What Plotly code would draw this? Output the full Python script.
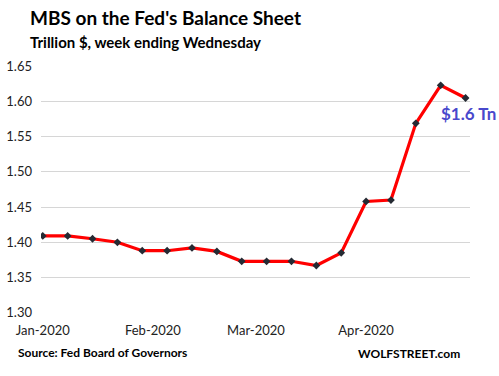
import plotly.graph_objects as go

weeks = ["2020-01-01", "2020-01-08", "2020-01-15", "2020-01-22", "2020-01-29",
         "2020-02-05", "2020-02-12", "2020-02-19", "2020-02-26",
         "2020-03-04", "2020-03-11", "2020-03-18", "2020-03-25",
         "2020-04-01", "2020-04-08", "2020-04-15", "2020-04-22", "2020-04-29"]
mbs = [1.409, 1.409, 1.405, 1.400, 1.388, 1.388, 1.392, 1.387, 1.373,
       1.373, 1.373, 1.367, 1.385, 1.458, 1.460, 1.569, 1.623, 1.605]
month_ticks = ["2020-01-01", "2020-02-01", "2020-03-01", "2020-04-01"]
month_labels = ["Jan-2020", "Feb-2020", "Mar-2020", "Apr-2020"]
y_ticks = [1.30, 1.35, 1.40, 1.45, 1.50, 1.55, 1.60, 1.65]

FONT = "Lato"

fig = go.Figure()
fig.add_trace(go.Scatter(
    x=weeks, y=mbs, mode="lines+markers",
    line=dict(color="#ff0000", width=3.2),
    marker=dict(symbol="diamond", size=6, color="#252a33"),
    hoverinfo="skip", showlegend=False,
))

L, R, T, B = 41, 470, 66, 313
W, H = 499, 376
def px(x):
    return (x - L) / (R - L)
def py(y):
    return (B - y) / (B - T)

fig.update_layout(
    width=W, height=H,
    margin=dict(l=L, r=W - R, t=T, b=H - B, autoexpand=False),
    paper_bgcolor="white", plot_bgcolor="white",
    font=dict(family=FONT, color="#222222"),
    xaxis=dict(
        type="date", range=["2019-12-31 12:00", "2020-04-30 06:00"],
        tickvals=month_ticks, ticktext=month_labels,
        showgrid=False, zeroline=False, showline=False, ticks="",
        tickfont=dict(size=13, color="#222222", family=FONT),
        ticklabelstandoff=8, automargin=False,
    ),
    yaxis=dict(
        range=[1.2995, 1.6505], tickvals=y_ticks,
        ticktext=[f"{v:.2f}" for v in y_ticks],
        showgrid=True, gridcolor="#d6d6d6", gridwidth=1,
        zeroline=False, showline=False, ticks="",
        tickfont=dict(size=13, color="#222222", family=FONT),
        ticklabelstandoff=8, automargin=False,
    ),
    annotations=[
        dict(text="<b>MBS on the Fed's Balance Sheet</b>", xref="paper", yref="paper",
             x=px(28), y=py(17), xanchor="left", yanchor="middle", showarrow=False,
             font=dict(size=19, color="#000000", family=FONT)),
        dict(text="<b>Trillion $, week ending Wednesday</b>", xref="paper", yref="paper",
             x=px(28), y=py(42), xanchor="left", yanchor="middle", showarrow=False,
             font=dict(size=15, color="#000000", family=FONT)),
        dict(text="<b>Source: Fed Board of Governors</b>", xref="paper", yref="paper",
             x=px(16), y=py(352), xanchor="left", yanchor="middle", showarrow=False,
             font=dict(size=12, color="#000000", family=FONT)),
        dict(text="<b>WOLFSTREET.com</b>", xref="paper", yref="paper",
             x=px(462), y=py(353), xanchor="right", yanchor="middle", showarrow=False,
             font=dict(size=12, color="#000000", family=FONT)),
        dict(text="<b>$1.6 Tn</b>", xref="paper", yref="paper",
             x=px(439), y=py(113), xanchor="left", yanchor="middle", showarrow=False,
             font=dict(size=17, color="#4848cc", family=FONT)),
    ],
)

fig.write_html("out.html", config={"displayModeBar": False},
               post_script="document.body.style.margin='0';document.body.style.overflow='hidden';")
